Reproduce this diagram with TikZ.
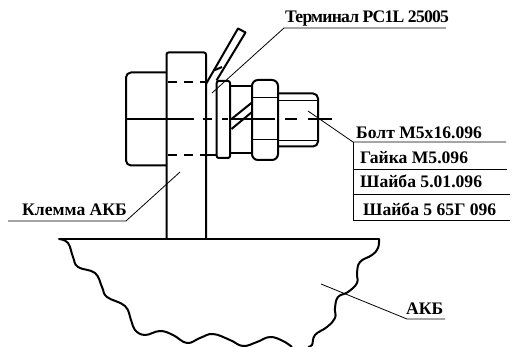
\documentclass[tikz,border=0pt]{standalone}
\usepackage{fontspec}
\setmainfont{Liberation Serif}
\tikzset{
  thick line/.style={line width=2pt,line join=round},
  thin line/.style={line width=0.8pt},
  hid/.style={line width=2pt,dash pattern=on 9pt off 7pt},
  lab/.style={font=\bfseries\fontsize{17.6}{17.6}\selectfont,inner sep=0pt,anchor=base west}
}
\begin{document}
\begin{tikzpicture}[x=1pt,y=-1pt]
\useasboundingbox (0,0) rectangle (512,347);
% plate
\draw[thick line] (166.5,239) -- (166.5,55) [rounded corners=2pt] -- (166.5,52.5) -- (206,52.5) -- (206,239);
% bolt head
\draw[thick line,rounded corners=5pt] (166.5,72.5) -- (126,72.5) -- (126,165.5) -- (166.5,165.5);
% hidden lines
\draw[hid] (168,82) -- (206,82);
\draw[hid] (168,155) -- (206,155);
% tab
\draw[thick line] (206,84) -- (238,28.5) -- (245.5,32.5) -- (216.5,80.5);
\draw[thick line] (215,70) -- (222,67);
% washer
\draw[thick line,rounded corners=2pt] (216.7,81) rectangle (230,158);
\draw[thick line] (206,155) -- (216.7,155);
% spring washer
\draw[thick line] (230,86) -- (252,86);
\draw[thick line] (230,153) -- (252,153);
\draw[thick line] (231.5,119) -- (252,102.5);
\draw[thick line] (231.5,129) -- (252,112);
% nut
\draw[thick line,rounded corners=6pt] (252,85) -- (252,80) -- (278,80) -- (278,160) -- (252,160) -- (252,85);
\draw[line width=1pt] (252,98) -- (278,98);
\draw[line width=1pt] (252,140) -- (278,140);
% bolt end
\draw[thick line,rounded corners=5pt] (278,93.5) -- (318,93.5) -- (318,146.5) -- (278,146.5);
\draw[line width=0.8pt] (278,100) -- (317,100);
\draw[line width=0.8pt] (278,140) -- (317,140);
% axis
\draw[line width=2pt] (126,119) -- (194,119);
\draw[line width=2pt] (203,119) -- (212,119);
\draw[line width=2pt] (222,119) -- (228,119);
\draw[line width=2pt] (231,119) -- (275,119);
\draw[line width=2pt] (285,119) -- (297,119);
\draw[line width=2pt] (308,119) -- (332,119);
% base
\draw[thick line,line cap=round] (59,239) -- (379,239);
% broken edges
\draw[thick line] plot[smooth,tension=0.7] coordinates {(59,239)(68,243)(73,257)(78,267)(95,273)(102,287)(107,297)(125,306)(131,320)(135,330)(145,335)(160,331)(173,335)(187,343)(200,338)(213,334)(230,340)(243,346)(257,342)(270,337)(283,341)(292,347)};
\draw[thick line] plot[smooth,tension=0.7] coordinates {(379,239)(378,248)(372,255)(360,262)(357,273)(357,283)(348,292)(338,297)(335,308)(335,318)(327,327)(315,335)(312,345)(308,347)};
% labels
\node[lab] (term) at (285,23) {\addfontfeature{LetterSpace=-4.5}Терминал PC1L 25005};
\coordinate (t1) at (284,28);
\coordinate (t2) at (446,28);
\coordinate (t3) at (212,93);
\draw[thin line] (t3) -- (t1) -- (t2);
\node[lab] (bolt) at (356,139) {Болт М5х16.096};
\node[lab] (nut) at (360,164) {Гайка М5.096};
\node[lab] (w1) at (360,188) {Шайба 5.01.096};
\node[lab] (w2) at (363,216) {Шайба 5 65Г 096};
\coordinate (b0) at (308,111);
\coordinate (b1) at (353,142);
\coordinate (b2) at (506,142);
\coordinate (b3) at (353,220);
\draw[thin line] (b0) -- (b1) -- (b2);
\draw[thin line] (b1) -- (b3) -- (510,220);
\draw[thin line] (353,169) -- (507,169);
\draw[thin line] (353,194) -- (510,194);
\node[lab] (kl) at (22,216) {Клемма АКБ};
\coordinate (k0) at (180,172);
\coordinate (k1) at (126,221);
\coordinate (k2) at (8,221);
\draw[thin line] (k0) -- (k1) -- (k2);
\node[lab] (akb) at (406,315) {АКБ};
\coordinate (a0) at (321,284);
\coordinate (a1) at (407,319);
\coordinate (a2) at (445,319);
\draw[thin line] (a0) -- (a1) -- (a2);
\end{tikzpicture}
\end{document}
